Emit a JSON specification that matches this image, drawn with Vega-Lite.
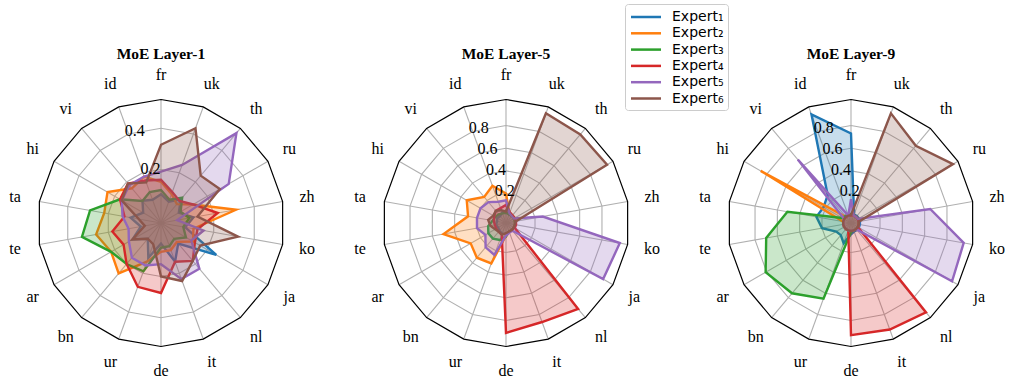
{
  "$schema": "https://vega.github.io/schema/vega-lite/v6.json",
  "padding": {"left": 1, "top": 3, "right": 0, "bottom": 0},
  "bounds": "flush",
  "config": {
    "view": {"stroke": null},
    "concat": {"spacing": 25}
  },
  "resolve": {"scale": {"stroke": "independent", "fill": "independent"}, "legend": {"stroke": "independent", "fill": "independent"}},
  "datasets": {
    "langs": [
      {"lang": "fr", "idx": 0}, {"lang": "uk", "idx": 1}, {"lang": "th", "idx": 2}, {"lang": "ru", "idx": 3},
      {"lang": "zh", "idx": 4}, {"lang": "ko", "idx": 5}, {"lang": "ja", "idx": 6}, {"lang": "nl", "idx": 7},
      {"lang": "it", "idx": 8}, {"lang": "de", "idx": 9}, {"lang": "ur", "idx": 10}, {"lang": "bn", "idx": 11},
      {"lang": "ar", "idx": 12}, {"lang": "te", "idx": 13}, {"lang": "ta", "idx": 14}, {"lang": "hi", "idx": 15},
      {"lang": "vi", "idx": 16}, {"lang": "id", "idx": 17}
    ],
    "rings": [
      {"level": 0.2, "idx": [0,1,2,3,4,5,6,7,8,9,10,11,12,13,14,15,16,17]},
      {"level": 0.4, "idx": [0,1,2,3,4,5,6,7,8,9,10,11,12,13,14,15,16,17]},
      {"level": 0.6, "idx": [0,1,2,3,4,5,6,7,8,9,10,11,12,13,14,15,16,17]},
      {"level": 0.8, "idx": [0,1,2,3,4,5,6,7,8,9,10,11,12,13,14,15,16,17]}
    ],
    "panels": [
      {"layer": 1, "title": "MoE Layer-1"},
      {"layer": 5, "title": "MoE Layer-5"},
      {"layer": 9, "title": "MoE Layer-9"}
    ],
    "scores": [
      {"layer":1,"expert":"Expert₁","lang":"fr","value":0.08},{"layer":1,"expert":"Expert₁","lang":"uk","value":0.05},{"layer":1,"expert":"Expert₁","lang":"th","value":0.09},{"layer":1,"expert":"Expert₁","lang":"ru","value":0.04},{"layer":1,"expert":"Expert₁","lang":"zh","value":0.10},{"layer":1,"expert":"Expert₁","lang":"ko","value":0.06},{"layer":1,"expert":"Expert₁","lang":"ja","value":0.25},{"layer":1,"expert":"Expert₁","lang":"nl","value":0.07},{"layer":1,"expert":"Expert₁","lang":"it","value":0.14},{"layer":1,"expert":"Expert₁","lang":"de","value":0.04},{"layer":1,"expert":"Expert₁","lang":"ur","value":0.12},{"layer":1,"expert":"Expert₁","lang":"bn","value":0.04},{"layer":1,"expert":"Expert₁","lang":"ar","value":0.10},{"layer":1,"expert":"Expert₁","lang":"te","value":0.04},{"layer":1,"expert":"Expert₁","lang":"ta","value":0.09},{"layer":1,"expert":"Expert₁","lang":"hi","value":0.04},{"layer":1,"expert":"Expert₁","lang":"vi","value":0.08},{"layer":1,"expert":"Expert₁","lang":"id","value":0.06},
      {"layer":1,"expert":"Expert₂","lang":"fr","value":0.14},{"layer":1,"expert":"Expert₂","lang":"uk","value":0.09},{"layer":1,"expert":"Expert₂","lang":"th","value":0.06},{"layer":1,"expert":"Expert₂","lang":"ru","value":0.12},{"layer":1,"expert":"Expert₂","lang":"zh","value":0.31},{"layer":1,"expert":"Expert₂","lang":"ko","value":0.10},{"layer":1,"expert":"Expert₂","lang":"ja","value":0.12},{"layer":1,"expert":"Expert₂","lang":"nl","value":0.06},{"layer":1,"expert":"Expert₂","lang":"it","value":0.08},{"layer":1,"expert":"Expert₂","lang":"de","value":0.08},{"layer":1,"expert":"Expert₂","lang":"ur","value":0.14},{"layer":1,"expert":"Expert₂","lang":"bn","value":0.26},{"layer":1,"expert":"Expert₂","lang":"ar","value":0.22},{"layer":1,"expert":"Expert₂","lang":"te","value":0.26},{"layer":1,"expert":"Expert₂","lang":"ta","value":0.22},{"layer":1,"expert":"Expert₂","lang":"hi","value":0.24},{"layer":1,"expert":"Expert₂","lang":"vi","value":0.16},{"layer":1,"expert":"Expert₂","lang":"id","value":0.18},
      {"layer":1,"expert":"Expert₃","lang":"fr","value":0.10},{"layer":1,"expert":"Expert₃","lang":"uk","value":0.06},{"layer":1,"expert":"Expert₃","lang":"th","value":0.10},{"layer":1,"expert":"Expert₃","lang":"ru","value":0.05},{"layer":1,"expert":"Expert₃","lang":"zh","value":0.08},{"layer":1,"expert":"Expert₃","lang":"ko","value":0.05},{"layer":1,"expert":"Expert₃","lang":"ja","value":0.08},{"layer":1,"expert":"Expert₃","lang":"nl","value":0.04},{"layer":1,"expert":"Expert₃","lang":"it","value":0.06},{"layer":1,"expert":"Expert₃","lang":"de","value":0.06},{"layer":1,"expert":"Expert₃","lang":"ur","value":0.19},{"layer":1,"expert":"Expert₃","lang":"bn","value":0.20},{"layer":1,"expert":"Expert₃","lang":"ar","value":0.22},{"layer":1,"expert":"Expert₃","lang":"te","value":0.33},{"layer":1,"expert":"Expert₃","lang":"ta","value":0.29},{"layer":1,"expert":"Expert₃","lang":"hi","value":0.17},{"layer":1,"expert":"Expert₃","lang":"vi","value":0.08},{"layer":1,"expert":"Expert₃","lang":"id","value":0.10},
      {"layer":1,"expert":"Expert₄","lang":"fr","value":0.15},{"layer":1,"expert":"Expert₄","lang":"uk","value":0.10},{"layer":1,"expert":"Expert₄","lang":"th","value":0.08},{"layer":1,"expert":"Expert₄","lang":"ru","value":0.12},{"layer":1,"expert":"Expert₄","lang":"zh","value":0.22},{"layer":1,"expert":"Expert₄","lang":"ko","value":0.12},{"layer":1,"expert":"Expert₄","lang":"ja","value":0.13},{"layer":1,"expert":"Expert₄","lang":"nl","value":0.18},{"layer":1,"expert":"Expert₄","lang":"it","value":0.14},{"layer":1,"expert":"Expert₄","lang":"de","value":0.28},{"layer":1,"expert":"Expert₄","lang":"ur","value":0.27},{"layer":1,"expert":"Expert₄","lang":"bn","value":0.20},{"layer":1,"expert":"Expert₄","lang":"ar","value":0.15},{"layer":1,"expert":"Expert₄","lang":"te","value":0.18},{"layer":1,"expert":"Expert₄","lang":"ta","value":0.12},{"layer":1,"expert":"Expert₄","lang":"hi","value":0.17},{"layer":1,"expert":"Expert₄","lang":"vi","value":0.19},{"layer":1,"expert":"Expert₄","lang":"id","value":0.16},
      {"layer":1,"expert":"Expert₅","lang":"fr","value":0.19},{"layer":1,"expert":"Expert₅","lang":"uk","value":0.24},{"layer":1,"expert":"Expert₅","lang":"th","value":0.51},{"layer":1,"expert":"Expert₅","lang":"ru","value":0.32},{"layer":1,"expert":"Expert₅","lang":"zh","value":0.02},{"layer":1,"expert":"Expert₅","lang":"ko","value":0.15},{"layer":1,"expert":"Expert₅","lang":"ja","value":0.11},{"layer":1,"expert":"Expert₅","lang":"nl","value":0.23},{"layer":1,"expert":"Expert₅","lang":"it","value":0.23},{"layer":1,"expert":"Expert₅","lang":"de","value":0.14},{"layer":1,"expert":"Expert₅","lang":"ur","value":0.16},{"layer":1,"expert":"Expert₅","lang":"bn","value":0.16},{"layer":1,"expert":"Expert₅","lang":"ar","value":0.12},{"layer":1,"expert":"Expert₅","lang":"te","value":0.10},{"layer":1,"expert":"Expert₅","lang":"ta","value":0.13},{"layer":1,"expert":"Expert₅","lang":"hi","value":0.16},{"layer":1,"expert":"Expert₅","lang":"vi","value":0.18},{"layer":1,"expert":"Expert₅","lang":"id","value":0.18},
      {"layer":1,"expert":"Expert₆","lang":"fr","value":0.32},{"layer":1,"expert":"Expert₆","lang":"uk","value":0.43},{"layer":1,"expert":"Expert₆","lang":"th","value":0.24},{"layer":1,"expert":"Expert₆","lang":"ru","value":0.27},{"layer":1,"expert":"Expert₆","lang":"zh","value":0.12},{"layer":1,"expert":"Expert₆","lang":"ko","value":0.32},{"layer":1,"expert":"Expert₆","lang":"ja","value":0.16},{"layer":1,"expert":"Expert₆","lang":"nl","value":0.18},{"layer":1,"expert":"Expert₆","lang":"it","value":0.24},{"layer":1,"expert":"Expert₆","lang":"de","value":0.20},{"layer":1,"expert":"Expert₆","lang":"ur","value":0.05},{"layer":1,"expert":"Expert₆","lang":"bn","value":0.04},{"layer":1,"expert":"Expert₆","lang":"ar","value":0.10},{"layer":1,"expert":"Expert₆","lang":"te","value":0.02},{"layer":1,"expert":"Expert₆","lang":"ta","value":0.05},{"layer":1,"expert":"Expert₆","lang":"hi","value":0.16},{"layer":1,"expert":"Expert₆","lang":"vi","value":0.19},{"layer":1,"expert":"Expert₆","lang":"id","value":0.15},

      {"layer":5,"expert":"Expert₁","lang":"fr","value":0.05},{"layer":5,"expert":"Expert₁","lang":"uk","value":0.02},{"layer":5,"expert":"Expert₁","lang":"th","value":0.02},{"layer":5,"expert":"Expert₁","lang":"ru","value":0.02},{"layer":5,"expert":"Expert₁","lang":"zh","value":0.02},{"layer":5,"expert":"Expert₁","lang":"ko","value":0.02},{"layer":5,"expert":"Expert₁","lang":"ja","value":0.02},{"layer":5,"expert":"Expert₁","lang":"nl","value":0.02},{"layer":5,"expert":"Expert₁","lang":"it","value":0.02},{"layer":5,"expert":"Expert₁","lang":"de","value":0.04},{"layer":5,"expert":"Expert₁","lang":"ur","value":0.04},{"layer":5,"expert":"Expert₁","lang":"bn","value":0.03},{"layer":5,"expert":"Expert₁","lang":"ar","value":0.02},{"layer":5,"expert":"Expert₁","lang":"te","value":0.03},{"layer":5,"expert":"Expert₁","lang":"ta","value":0.02},{"layer":5,"expert":"Expert₁","lang":"hi","value":0.03},{"layer":5,"expert":"Expert₁","lang":"vi","value":0.02},{"layer":5,"expert":"Expert₁","lang":"id","value":0.04},
      {"layer":5,"expert":"Expert₂","lang":"fr","value":0.20},{"layer":5,"expert":"Expert₂","lang":"uk","value":0.03},{"layer":5,"expert":"Expert₂","lang":"th","value":0.02},{"layer":5,"expert":"Expert₂","lang":"ru","value":0.02},{"layer":5,"expert":"Expert₂","lang":"zh","value":0.02},{"layer":5,"expert":"Expert₂","lang":"ko","value":0.02},{"layer":5,"expert":"Expert₂","lang":"ja","value":0.02},{"layer":5,"expert":"Expert₂","lang":"nl","value":0.02},{"layer":5,"expert":"Expert₂","lang":"it","value":0.02},{"layer":5,"expert":"Expert₂","lang":"de","value":0.05},{"layer":5,"expert":"Expert₂","lang":"ur","value":0.32},{"layer":5,"expert":"Expert₂","lang":"bn","value":0.34},{"layer":5,"expert":"Expert₂","lang":"ar","value":0.30},{"layer":5,"expert":"Expert₂","lang":"te","value":0.50},{"layer":5,"expert":"Expert₂","lang":"ta","value":0.28},{"layer":5,"expert":"Expert₂","lang":"hi","value":0.34},{"layer":5,"expert":"Expert₂","lang":"vi","value":0.24},{"layer":5,"expert":"Expert₂","lang":"id","value":0.29},
      {"layer":5,"expert":"Expert₃","lang":"fr","value":0.03},{"layer":5,"expert":"Expert₃","lang":"uk","value":0.02},{"layer":5,"expert":"Expert₃","lang":"th","value":0.02},{"layer":5,"expert":"Expert₃","lang":"ru","value":0.02},{"layer":5,"expert":"Expert₃","lang":"zh","value":0.02},{"layer":5,"expert":"Expert₃","lang":"ko","value":0.02},{"layer":5,"expert":"Expert₃","lang":"ja","value":0.02},{"layer":5,"expert":"Expert₃","lang":"nl","value":0.02},{"layer":5,"expert":"Expert₃","lang":"it","value":0.02},{"layer":5,"expert":"Expert₃","lang":"de","value":0.06},{"layer":5,"expert":"Expert₃","lang":"ur","value":0.10},{"layer":5,"expert":"Expert₃","lang":"bn","value":0.12},{"layer":5,"expert":"Expert₃","lang":"ar","value":0.12},{"layer":5,"expert":"Expert₃","lang":"te","value":0.10},{"layer":5,"expert":"Expert₃","lang":"ta","value":0.06},{"layer":5,"expert":"Expert₃","lang":"hi","value":0.05},{"layer":5,"expert":"Expert₃","lang":"vi","value":0.04},{"layer":5,"expert":"Expert₃","lang":"id","value":0.03},
      {"layer":5,"expert":"Expert₄","lang":"fr","value":0.10},{"layer":5,"expert":"Expert₄","lang":"uk","value":0.04},{"layer":5,"expert":"Expert₄","lang":"th","value":0.03},{"layer":5,"expert":"Expert₄","lang":"ru","value":0.03},{"layer":5,"expert":"Expert₄","lang":"zh","value":0.03},{"layer":5,"expert":"Expert₄","lang":"ko","value":0.03},{"layer":5,"expert":"Expert₄","lang":"ja","value":0.03},{"layer":5,"expert":"Expert₄","lang":"nl","value":0.93},{"layer":5,"expert":"Expert₄","lang":"it","value":0.87},{"layer":5,"expert":"Expert₄","lang":"de","value":0.91},{"layer":5,"expert":"Expert₄","lang":"ur","value":0.05},{"layer":5,"expert":"Expert₄","lang":"bn","value":0.04},{"layer":5,"expert":"Expert₄","lang":"ar","value":0.04},{"layer":5,"expert":"Expert₄","lang":"te","value":0.04},{"layer":5,"expert":"Expert₄","lang":"ta","value":0.05},{"layer":5,"expert":"Expert₄","lang":"hi","value":0.06},{"layer":5,"expert":"Expert₄","lang":"vi","value":0.08},{"layer":5,"expert":"Expert₄","lang":"id","value":0.08},
      {"layer":5,"expert":"Expert₅","lang":"fr","value":0.14},{"layer":5,"expert":"Expert₅","lang":"uk","value":0.03},{"layer":5,"expert":"Expert₅","lang":"th","value":0.02},{"layer":5,"expert":"Expert₅","lang":"ru","value":0.02},{"layer":5,"expert":"Expert₅","lang":"zh","value":0.27},{"layer":5,"expert":"Expert₅","lang":"ko","value":0.96},{"layer":5,"expert":"Expert₅","lang":"ja","value":0.93},{"layer":5,"expert":"Expert₅","lang":"nl","value":0.03},{"layer":5,"expert":"Expert₅","lang":"it","value":0.03},{"layer":5,"expert":"Expert₅","lang":"de","value":0.05},{"layer":5,"expert":"Expert₅","lang":"ur","value":0.24},{"layer":5,"expert":"Expert₅","lang":"bn","value":0.22},{"layer":5,"expert":"Expert₅","lang":"ar","value":0.15},{"layer":5,"expert":"Expert₅","lang":"te","value":0.20},{"layer":5,"expert":"Expert₅","lang":"ta","value":0.20},{"layer":5,"expert":"Expert₅","lang":"hi","value":0.20},{"layer":5,"expert":"Expert₅","lang":"vi","value":0.18},{"layer":5,"expert":"Expert₅","lang":"id","value":0.14},
      {"layer":5,"expert":"Expert₆","lang":"fr","value":0.04},{"layer":5,"expert":"Expert₆","lang":"uk","value":0.97},{"layer":5,"expert":"Expert₆","lang":"th","value":0.96},{"layer":5,"expert":"Expert₆","lang":"ru","value":0.97},{"layer":5,"expert":"Expert₆","lang":"zh","value":0.03},{"layer":5,"expert":"Expert₆","lang":"ko","value":0.02},{"layer":5,"expert":"Expert₆","lang":"ja","value":0.02},{"layer":5,"expert":"Expert₆","lang":"nl","value":0.02},{"layer":5,"expert":"Expert₆","lang":"it","value":0.02},{"layer":5,"expert":"Expert₆","lang":"de","value":0.03},{"layer":5,"expert":"Expert₆","lang":"ur","value":0.05},{"layer":5,"expert":"Expert₆","lang":"bn","value":0.04},{"layer":5,"expert":"Expert₆","lang":"ar","value":0.05},{"layer":5,"expert":"Expert₆","lang":"te","value":0.08},{"layer":5,"expert":"Expert₆","lang":"ta","value":0.10},{"layer":5,"expert":"Expert₆","lang":"hi","value":0.07},{"layer":5,"expert":"Expert₆","lang":"vi","value":0.08},{"layer":5,"expert":"Expert₆","lang":"id","value":0.06},

      {"layer":9,"expert":"Expert₁","lang":"fr","value":0.73},{"layer":9,"expert":"Expert₁","lang":"uk","value":0.02},{"layer":9,"expert":"Expert₁","lang":"th","value":0.02},{"layer":9,"expert":"Expert₁","lang":"ru","value":0.02},{"layer":9,"expert":"Expert₁","lang":"zh","value":0.02},{"layer":9,"expert":"Expert₁","lang":"ko","value":0.02},{"layer":9,"expert":"Expert₁","lang":"ja","value":0.02},{"layer":9,"expert":"Expert₁","lang":"nl","value":0.02},{"layer":9,"expert":"Expert₁","lang":"it","value":0.02},{"layer":9,"expert":"Expert₁","lang":"de","value":0.04},{"layer":9,"expert":"Expert₁","lang":"ur","value":0.13},{"layer":9,"expert":"Expert₁","lang":"bn","value":0.08},{"layer":9,"expert":"Expert₁","lang":"ar","value":0.09},{"layer":9,"expert":"Expert₁","lang":"te","value":0.20},{"layer":9,"expert":"Expert₁","lang":"ta","value":0.25},{"layer":9,"expert":"Expert₁","lang":"hi","value":0.22},{"layer":9,"expert":"Expert₁","lang":"vi","value":0.26},{"layer":9,"expert":"Expert₁","lang":"id","value":0.96},
      {"layer":9,"expert":"Expert₂","lang":"fr","value":0.01},{"layer":9,"expert":"Expert₂","lang":"uk","value":0.01},{"layer":9,"expert":"Expert₂","lang":"th","value":0.01},{"layer":9,"expert":"Expert₂","lang":"ru","value":0.01},{"layer":9,"expert":"Expert₂","lang":"zh","value":0.01},{"layer":9,"expert":"Expert₂","lang":"ko","value":0.01},{"layer":9,"expert":"Expert₂","lang":"ja","value":0.01},{"layer":9,"expert":"Expert₂","lang":"nl","value":0.01},{"layer":9,"expert":"Expert₂","lang":"it","value":0.01},{"layer":9,"expert":"Expert₂","lang":"de","value":0.01},{"layer":9,"expert":"Expert₂","lang":"ur","value":0.01},{"layer":9,"expert":"Expert₂","lang":"bn","value":0.01},{"layer":9,"expert":"Expert₂","lang":"ar","value":0.01},{"layer":9,"expert":"Expert₂","lang":"te","value":0.01},{"layer":9,"expert":"Expert₂","lang":"ta","value":0.01},{"layer":9,"expert":"Expert₂","lang":"hi","value":0.86},{"layer":9,"expert":"Expert₂","lang":"vi","value":0.01},{"layer":9,"expert":"Expert₂","lang":"id","value":0.01},
      {"layer":9,"expert":"Expert₃","lang":"fr","value":0.02},{"layer":9,"expert":"Expert₃","lang":"uk","value":0.01},{"layer":9,"expert":"Expert₃","lang":"th","value":0.01},{"layer":9,"expert":"Expert₃","lang":"ru","value":0.01},{"layer":9,"expert":"Expert₃","lang":"zh","value":0.01},{"layer":9,"expert":"Expert₃","lang":"ko","value":0.01},{"layer":9,"expert":"Expert₃","lang":"ja","value":0.01},{"layer":9,"expert":"Expert₃","lang":"nl","value":0.01},{"layer":9,"expert":"Expert₃","lang":"it","value":0.01},{"layer":9,"expert":"Expert₃","lang":"de","value":0.02},{"layer":9,"expert":"Expert₃","lang":"ur","value":0.65},{"layer":9,"expert":"Expert₃","lang":"bn","value":0.75},{"layer":9,"expert":"Expert₃","lang":"ar","value":0.81},{"layer":9,"expert":"Expert₃","lang":"te","value":0.70},{"layer":9,"expert":"Expert₃","lang":"ta","value":0.51},{"layer":9,"expert":"Expert₃","lang":"hi","value":0.03},{"layer":9,"expert":"Expert₃","lang":"vi","value":0.02},{"layer":9,"expert":"Expert₃","lang":"id","value":0.02},
      {"layer":9,"expert":"Expert₄","lang":"fr","value":0.01},{"layer":9,"expert":"Expert₄","lang":"uk","value":0.01},{"layer":9,"expert":"Expert₄","lang":"th","value":0.01},{"layer":9,"expert":"Expert₄","lang":"ru","value":0.01},{"layer":9,"expert":"Expert₄","lang":"zh","value":0.01},{"layer":9,"expert":"Expert₄","lang":"ko","value":0.01},{"layer":9,"expert":"Expert₄","lang":"ja","value":0.01},{"layer":9,"expert":"Expert₄","lang":"nl","value":0.97},{"layer":9,"expert":"Expert₄","lang":"it","value":0.94},{"layer":9,"expert":"Expert₄","lang":"de","value":0.93},{"layer":9,"expert":"Expert₄","lang":"ur","value":0.01},{"layer":9,"expert":"Expert₄","lang":"bn","value":0.01},{"layer":9,"expert":"Expert₄","lang":"ar","value":0.01},{"layer":9,"expert":"Expert₄","lang":"te","value":0.01},{"layer":9,"expert":"Expert₄","lang":"ta","value":0.01},{"layer":9,"expert":"Expert₄","lang":"hi","value":0.01},{"layer":9,"expert":"Expert₄","lang":"vi","value":0.01},{"layer":9,"expert":"Expert₄","lang":"id","value":0.01},
      {"layer":9,"expert":"Expert₅","lang":"fr","value":0.15},{"layer":9,"expert":"Expert₅","lang":"uk","value":0.01},{"layer":9,"expert":"Expert₅","lang":"th","value":0.01},{"layer":9,"expert":"Expert₅","lang":"ru","value":0.01},{"layer":9,"expert":"Expert₅","lang":"zh","value":0.65},{"layer":9,"expert":"Expert₅","lang":"ko","value":0.95},{"layer":9,"expert":"Expert₅","lang":"ja","value":0.97},{"layer":9,"expert":"Expert₅","lang":"nl","value":0.01},{"layer":9,"expert":"Expert₅","lang":"it","value":0.01},{"layer":9,"expert":"Expert₅","lang":"de","value":0.01},{"layer":9,"expert":"Expert₅","lang":"ur","value":0.01},{"layer":9,"expert":"Expert₅","lang":"bn","value":0.01},{"layer":9,"expert":"Expert₅","lang":"ar","value":0.01},{"layer":9,"expert":"Expert₅","lang":"te","value":0.01},{"layer":9,"expert":"Expert₅","lang":"ta","value":0.01},{"layer":9,"expert":"Expert₅","lang":"hi","value":0.01},{"layer":9,"expert":"Expert₅","lang":"vi","value":0.67},{"layer":9,"expert":"Expert₅","lang":"id","value":0.01},
      {"layer":9,"expert":"Expert₆","lang":"fr","value":0.01},{"layer":9,"expert":"Expert₆","lang":"uk","value":0.97},{"layer":9,"expert":"Expert₆","lang":"th","value":0.83},{"layer":9,"expert":"Expert₆","lang":"ru","value":0.98},{"layer":9,"expert":"Expert₆","lang":"zh","value":0.01},{"layer":9,"expert":"Expert₆","lang":"ko","value":0.01},{"layer":9,"expert":"Expert₆","lang":"ja","value":0.01},{"layer":9,"expert":"Expert₆","lang":"nl","value":0.01},{"layer":9,"expert":"Expert₆","lang":"it","value":0.01},{"layer":9,"expert":"Expert₆","lang":"de","value":0.01},{"layer":9,"expert":"Expert₆","lang":"ur","value":0.01},{"layer":9,"expert":"Expert₆","lang":"bn","value":0.01},{"layer":9,"expert":"Expert₆","lang":"ar","value":0.01},{"layer":9,"expert":"Expert₆","lang":"te","value":0.01},{"layer":9,"expert":"Expert₆","lang":"ta","value":0.01},{"layer":9,"expert":"Expert₆","lang":"hi","value":0.01},{"layer":9,"expert":"Expert₆","lang":"vi","value":0.01},{"layer":9,"expert":"Expert₆","lang":"id","value":0.01}
    ]
  },
  "hconcat": [
    {
      "width": 320, "height": 320,
      "layer": [
        {
          "data": {"name": "rings"},
          "transform": [
            {"filter": "datum.level < 0.54"},
            {"flatten": ["idx"]},
            {"calculate": "(datum.level + 0.06) / 0.60", "as": "n"},
            {"calculate": "datum.n * sin(datum.idx * PI / 9)", "as": "px"},
            {"calculate": "datum.n * cos(datum.idx * PI / 9)", "as": "py"}
          ],
          "mark": {"type": "line", "interpolate": "linear-closed", "stroke": "#b0b0b0", "strokeWidth": 1.1},
          "encoding": {
            "x": {"field": "px", "type": "quantitative", "scale": {"domain": [-1.2955, 1.2955], "nice": false, "zero": false}, "axis": null},
            "y": {"field": "py", "type": "quantitative", "scale": {"domain": [-1.2955, 1.2955], "nice": false, "zero": false}, "axis": null},
            "detail": {"field": "level"},
            "order": {"field": "idx"}
          }
        },
        {
          "data": {"name": "langs"},
          "transform": [
            {"calculate": "sin(datum.idx * PI / 9)", "as": "px"},
            {"calculate": "cos(datum.idx * PI / 9)", "as": "py"}
          ],
          "mark": {"type": "rule", "stroke": "#b0b0b0", "strokeWidth": 1.1},
          "encoding": {
            "x": {"field": "px", "type": "quantitative"},
            "y": {"field": "py", "type": "quantitative"},
            "x2": {"datum": 0},
            "y2": {"datum": 0}
          }
        },
        {
          "data": {"name": "langs"},
          "transform": [
            {"calculate": "sin(datum.idx * PI / 9)", "as": "px"},
            {"calculate": "cos(datum.idx * PI / 9)", "as": "py"}
          ],
          "mark": {"type": "line", "interpolate": "linear-closed", "stroke": "black", "strokeWidth": 1.2},
          "encoding": {
            "x": {"field": "px", "type": "quantitative"},
            "y": {"field": "py", "type": "quantitative"},
            "order": {"field": "idx"}
          }
        },
        {
          "data": {"name": "scores"},
          "transform": [
            {"filter": "datum.layer == 1"},
            {"lookup": "lang", "from": {"data": {"name": "langs"}, "key": "lang", "fields": ["idx"]}},
            {"calculate": "(datum.value + 0.06) / 0.60", "as": "n"},
            {"calculate": "datum.n * sin(datum.idx * PI / 9)", "as": "px"},
            {"calculate": "datum.n * cos(datum.idx * PI / 9)", "as": "py"}
          ],
          "mark": {"type": "line", "interpolate": "linear-closed", "strokeWidth": 2.4, "fillOpacity": 0.25},
          "encoding": {
            "x": {"field": "px", "type": "quantitative"},
            "y": {"field": "py", "type": "quantitative"},
            "stroke": {"field": "expert", "type": "nominal", "scale": {"domain": ["Expert₁","Expert₂","Expert₃","Expert₄","Expert₅","Expert₆"], "range": ["#1f77b4","#ff7f0e","#2ca02c","#d62728","#9467bd","#8c564b"]}, "legend": null},
            "fill": {"field": "expert", "type": "nominal", "scale": {"domain": ["Expert₁","Expert₂","Expert₃","Expert₄","Expert₅","Expert₆"], "range": ["#1f77b4","#ff7f0e","#2ca02c","#d62728","#9467bd","#8c564b"]}, "legend": null},
            "order": {"field": "idx"}
          }
        },
        {
          "data": {"name": "langs"},
          "transform": [
            {"calculate": "1.2 * sin(datum.idx * PI / 9)", "as": "px"},
            {"calculate": "1.2 * cos(datum.idx * PI / 9)", "as": "py"}
          ],
          "mark": {"type": "text", "font": "Liberation Serif", "fontSize": 16, "color": "black", "align": "center", "baseline": "middle"},
          "encoding": {
            "x": {"field": "px", "type": "quantitative"},
            "y": {"field": "py", "type": "quantitative"},
            "text": {"field": "lang"}
          }
        },
        {
          "data": {"name": "rings"},
          "transform": [
            {"filter": "datum.level < 0.54"},
            {"calculate": "(datum.level + 0.06) / 0.60", "as": "n"},
            {"calculate": "-datum.n * sin(PI / 8)", "as": "px"},
            {"calculate": "datum.n * cos(PI / 8)", "as": "py"}
          ],
          "mark": {"type": "text", "font": "Liberation Serif", "fontSize": 16, "color": "black", "align": "left", "baseline": "middle", "dy": -5},
          "encoding": {
            "x": {"field": "px", "type": "quantitative"},
            "y": {"field": "py", "type": "quantitative"},
            "text": {"field": "level", "format": ".1f"}
          }
        },
        {
          "data": {"name": "panels"},
          "transform": [{"filter": "datum.layer == 1"}],
          "mark": {"type": "text", "font": "Liberation Serif", "fontSize": 15.5, "fontWeight": "bold", "color": "black", "align": "center", "baseline": "middle"},
          "encoding": {
            "x": {"datum": 0, "type": "quantitative"},
            "y": {"datum": 1.371, "type": "quantitative"},
            "text": {"field": "title"}
          }
        }
      ]
    },
    {
      "width": 320, "height": 320,
      "layer": [
        {
          "data": {"name": "rings"},
          "transform": [
            {"flatten": ["idx"]},
            {"calculate": "(datum.level + 0.06) / 1.09", "as": "n"},
            {"calculate": "datum.n * sin(datum.idx * PI / 9)", "as": "px"},
            {"calculate": "datum.n * cos(datum.idx * PI / 9)", "as": "py"}
          ],
          "mark": {"type": "line", "interpolate": "linear-closed", "stroke": "#b0b0b0", "strokeWidth": 1.1},
          "encoding": {
            "x": {"field": "px", "type": "quantitative", "scale": {"domain": [-1.2955, 1.2955], "nice": false, "zero": false}, "axis": null},
            "y": {"field": "py", "type": "quantitative", "scale": {"domain": [-1.2955, 1.2955], "nice": false, "zero": false}, "axis": null},
            "detail": {"field": "level"},
            "order": {"field": "idx"}
          }
        },
        {
          "data": {"name": "langs"},
          "transform": [
            {"calculate": "sin(datum.idx * PI / 9)", "as": "px"},
            {"calculate": "cos(datum.idx * PI / 9)", "as": "py"}
          ],
          "mark": {"type": "rule", "stroke": "#b0b0b0", "strokeWidth": 1.1},
          "encoding": {
            "x": {"field": "px", "type": "quantitative"},
            "y": {"field": "py", "type": "quantitative"},
            "x2": {"datum": 0},
            "y2": {"datum": 0}
          }
        },
        {
          "data": {"name": "langs"},
          "transform": [
            {"calculate": "sin(datum.idx * PI / 9)", "as": "px"},
            {"calculate": "cos(datum.idx * PI / 9)", "as": "py"}
          ],
          "mark": {"type": "line", "interpolate": "linear-closed", "stroke": "black", "strokeWidth": 1.2},
          "encoding": {
            "x": {"field": "px", "type": "quantitative"},
            "y": {"field": "py", "type": "quantitative"},
            "order": {"field": "idx"}
          }
        },
        {
          "data": {"name": "scores"},
          "transform": [
            {"filter": "datum.layer == 5"},
            {"lookup": "lang", "from": {"data": {"name": "langs"}, "key": "lang", "fields": ["idx"]}},
            {"calculate": "(datum.value + 0.06) / 1.09", "as": "n"},
            {"calculate": "datum.n * sin(datum.idx * PI / 9)", "as": "px"},
            {"calculate": "datum.n * cos(datum.idx * PI / 9)", "as": "py"}
          ],
          "mark": {"type": "line", "interpolate": "linear-closed", "strokeWidth": 2.4, "fillOpacity": 0.25},
          "encoding": {
            "x": {"field": "px", "type": "quantitative"},
            "y": {"field": "py", "type": "quantitative"},
            "stroke": {
              "field": "expert", "type": "nominal",
              "scale": {"domain": ["Expert₁","Expert₂","Expert₃","Expert₄","Expert₅","Expert₆"], "range": ["#1f77b4","#ff7f0e","#2ca02c","#d62728","#9467bd","#8c564b"]},
              "legend": {
                "orient": "none", "legendX": 279, "legendY": -59, "title": null,
                "symbolType": "M-2,0H2", "symbolSize": 225, "symbolStrokeWidth": 2.5, "symbolOffset": 8,
                "labelFont": "DejaVu Sans", "labelFontSize": 14, "labelColor": "black", "labelOffset": 17,
                "rowPadding": 0.3, "padding": 4, "strokeColor": "#cccccc", "fillColor": "white", "cornerRadius": 3
              }
            },
            "fill": {
              "field": "expert", "type": "nominal",
              "scale": {"domain": ["Expert₁","Expert₂","Expert₃","Expert₄","Expert₅","Expert₆"], "range": ["#1f77b4","#ff7f0e","#2ca02c","#d62728","#9467bd","#8c564b"]},
              "legend": {
                "orient": "none", "legendX": 279, "legendY": -59, "title": null,
                "symbolType": "M-2,0H2", "symbolSize": 225, "symbolStrokeWidth": 2.5, "symbolOffset": 8,
                "labelFont": "DejaVu Sans", "labelFontSize": 14, "labelColor": "black", "labelOffset": 17,
                "rowPadding": 0.3, "padding": 4, "strokeColor": "#cccccc", "fillColor": "white", "cornerRadius": 3
              }
            },
            "order": {"field": "idx"}
          }
        },
        {
          "data": {"name": "langs"},
          "transform": [
            {"calculate": "1.2 * sin(datum.idx * PI / 9)", "as": "px"},
            {"calculate": "1.2 * cos(datum.idx * PI / 9)", "as": "py"}
          ],
          "mark": {"type": "text", "font": "Liberation Serif", "fontSize": 16, "color": "black", "align": "center", "baseline": "middle"},
          "encoding": {
            "x": {"field": "px", "type": "quantitative"},
            "y": {"field": "py", "type": "quantitative"},
            "text": {"field": "lang"}
          }
        },
        {
          "data": {"name": "rings"},
          "transform": [
            {"calculate": "(datum.level + 0.06) / 1.09", "as": "n"},
            {"calculate": "-datum.n * sin(PI / 8)", "as": "px"},
            {"calculate": "datum.n * cos(PI / 8)", "as": "py"}
          ],
          "mark": {"type": "text", "font": "Liberation Serif", "fontSize": 16, "color": "black", "align": "left", "baseline": "middle", "dy": -5},
          "encoding": {
            "x": {"field": "px", "type": "quantitative"},
            "y": {"field": "py", "type": "quantitative"},
            "text": {"field": "level", "format": ".1f"}
          }
        },
        {
          "data": {"name": "panels"},
          "transform": [{"filter": "datum.layer == 5"}],
          "mark": {"type": "text", "font": "Liberation Serif", "fontSize": 15.5, "fontWeight": "bold", "color": "black", "align": "center", "baseline": "middle"},
          "encoding": {
            "x": {"datum": 0, "type": "quantitative"},
            "y": {"datum": 1.371, "type": "quantitative"},
            "text": {"field": "title"}
          }
        }
      ]
    },
    {
      "width": 320, "height": 320,
      "layer": [
        {
          "data": {"name": "rings"},
          "transform": [
            {"flatten": ["idx"]},
            {"calculate": "(datum.level + 0.06) / 1.09", "as": "n"},
            {"calculate": "datum.n * sin(datum.idx * PI / 9)", "as": "px"},
            {"calculate": "datum.n * cos(datum.idx * PI / 9)", "as": "py"}
          ],
          "mark": {"type": "line", "interpolate": "linear-closed", "stroke": "#b0b0b0", "strokeWidth": 1.1},
          "encoding": {
            "x": {"field": "px", "type": "quantitative", "scale": {"domain": [-1.2955, 1.2955], "nice": false, "zero": false}, "axis": null},
            "y": {"field": "py", "type": "quantitative", "scale": {"domain": [-1.2955, 1.2955], "nice": false, "zero": false}, "axis": null},
            "detail": {"field": "level"},
            "order": {"field": "idx"}
          }
        },
        {
          "data": {"name": "langs"},
          "transform": [
            {"calculate": "sin(datum.idx * PI / 9)", "as": "px"},
            {"calculate": "cos(datum.idx * PI / 9)", "as": "py"}
          ],
          "mark": {"type": "rule", "stroke": "#b0b0b0", "strokeWidth": 1.1},
          "encoding": {
            "x": {"field": "px", "type": "quantitative"},
            "y": {"field": "py", "type": "quantitative"},
            "x2": {"datum": 0},
            "y2": {"datum": 0}
          }
        },
        {
          "data": {"name": "langs"},
          "transform": [
            {"calculate": "sin(datum.idx * PI / 9)", "as": "px"},
            {"calculate": "cos(datum.idx * PI / 9)", "as": "py"}
          ],
          "mark": {"type": "line", "interpolate": "linear-closed", "stroke": "black", "strokeWidth": 1.2},
          "encoding": {
            "x": {"field": "px", "type": "quantitative"},
            "y": {"field": "py", "type": "quantitative"},
            "order": {"field": "idx"}
          }
        },
        {
          "data": {"name": "scores"},
          "transform": [
            {"filter": "datum.layer == 9"},
            {"lookup": "lang", "from": {"data": {"name": "langs"}, "key": "lang", "fields": ["idx"]}},
            {"calculate": "(datum.value + 0.06) / 1.09", "as": "n"},
            {"calculate": "datum.n * sin(datum.idx * PI / 9)", "as": "px"},
            {"calculate": "datum.n * cos(datum.idx * PI / 9)", "as": "py"}
          ],
          "mark": {"type": "line", "interpolate": "linear-closed", "strokeWidth": 2.4, "fillOpacity": 0.25},
          "encoding": {
            "x": {"field": "px", "type": "quantitative"},
            "y": {"field": "py", "type": "quantitative"},
            "stroke": {"field": "expert", "type": "nominal", "scale": {"domain": ["Expert₁","Expert₂","Expert₃","Expert₄","Expert₅","Expert₆"], "range": ["#1f77b4","#ff7f0e","#2ca02c","#d62728","#9467bd","#8c564b"]}, "legend": null},
            "fill": {"field": "expert", "type": "nominal", "scale": {"domain": ["Expert₁","Expert₂","Expert₃","Expert₄","Expert₅","Expert₆"], "range": ["#1f77b4","#ff7f0e","#2ca02c","#d62728","#9467bd","#8c564b"]}, "legend": null},
            "order": {"field": "idx"}
          }
        },
        {
          "data": {"name": "langs"},
          "transform": [
            {"calculate": "1.2 * sin(datum.idx * PI / 9)", "as": "px"},
            {"calculate": "1.2 * cos(datum.idx * PI / 9)", "as": "py"}
          ],
          "mark": {"type": "text", "font": "Liberation Serif", "fontSize": 16, "color": "black", "align": "center", "baseline": "middle"},
          "encoding": {
            "x": {"field": "px", "type": "quantitative"},
            "y": {"field": "py", "type": "quantitative"},
            "text": {"field": "lang"}
          }
        },
        {
          "data": {"name": "rings"},
          "transform": [
            {"calculate": "(datum.level + 0.06) / 1.09", "as": "n"},
            {"calculate": "-datum.n * sin(PI / 8)", "as": "px"},
            {"calculate": "datum.n * cos(PI / 8)", "as": "py"}
          ],
          "mark": {"type": "text", "font": "Liberation Serif", "fontSize": 16, "color": "black", "align": "left", "baseline": "middle", "dy": -5},
          "encoding": {
            "x": {"field": "px", "type": "quantitative"},
            "y": {"field": "py", "type": "quantitative"},
            "text": {"field": "level", "format": ".1f"}
          }
        },
        {
          "data": {"name": "panels"},
          "transform": [{"filter": "datum.layer == 9"}],
          "mark": {"type": "text", "font": "Liberation Serif", "fontSize": 15.5, "fontWeight": "bold", "color": "black", "align": "center", "baseline": "middle"},
          "encoding": {
            "x": {"datum": 0, "type": "quantitative"},
            "y": {"datum": 1.371, "type": "quantitative"},
            "text": {"field": "title"}
          }
        }
      ]
    }
  ]
}
